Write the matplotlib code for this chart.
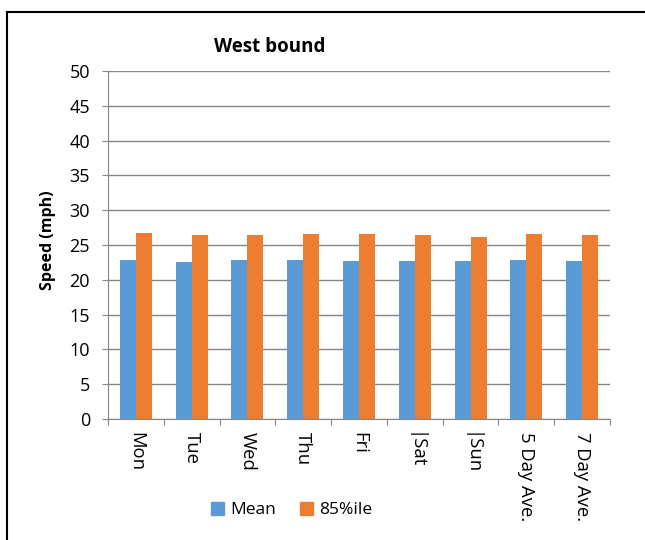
import matplotlib
matplotlib.use('Agg')
import matplotlib.pyplot as plt
import numpy as np
from matplotlib.patches import Rectangle, Patch

# Data
days = ['Mon', 'Tue', 'Wed', 'Thu', 'Fri', '|Sat', '|Sun', '5 Day Ave.', '7 Day Ave.']
mean_speed = [22.9, 22.6, 22.8, 22.9, 22.7, 22.7, 22.7, 22.8, 22.7]
pct85_speed = [26.7, 26.4, 26.4, 26.6, 26.6, 26.4, 26.2, 26.6, 26.4]

blue = '#5B9BD5'
orange = '#ED7D31'
grid_col = '#868686'

plt.rcParams['font.family'] = ['Open Sans', 'DejaVu Sans']

fig = plt.figure(figsize=(6.45, 5.4), dpi=100)
ax = fig.add_axes([108 / 645, 1 - 419 / 540, 502 / 645, 348 / 540])

x = np.arange(len(days))
w = 0.286
ax.bar(x - w / 2, mean_speed, w, color=blue, label='Mean')
ax.bar(x + w / 2, pct85_speed, w, color=orange, label='85%ile')

ax.set_xlim(-0.5, len(days) - 0.5)
ax.set_ylim(0, 50)
ax.set_yticks(range(0, 51, 5))
ax.yaxis.grid(True, color=grid_col, linewidth=1)
ax.set_axisbelow(True)

# category ticks between groups, labels at centres
ax.set_xticks(np.arange(-0.5, len(days), 1))
ax.set_xticklabels([])
ax.set_xticks(x, minor=True)
ax.set_xticklabels(days, minor=True, rotation=-90, fontsize=13.3, va='top', ha='center')
ax.tick_params(axis='x', which='minor', length=0, pad=9)
ax.tick_params(axis='x', which='major', length=4.5, color=grid_col, direction='out')
ax.tick_params(axis='y', length=4.5, color=grid_col, labelsize=13, pad=8.5)

for s in ['top', 'right']:
    ax.spines[s].set_visible(False)
ax.spines['left'].set_color(grid_col)
ax.spines['bottom'].set_color(grid_col)

fig.text(48 / 645, 1 - 240 / 540, 'Speed (mph)', fontsize=11.5, fontweight='bold',
         rotation=90, ha='center', va='center')

fig.text(270 / 645, 1 - 47 / 540, 'West bound', fontsize=13.5, fontweight='bold',
         ha='center', va='center')

handles = [Patch(color=blue, label='Mean'), Patch(color=orange, label='85%ile')]
fig.legend(handles=handles, loc='center', bbox_to_anchor=(292 / 645, 1 - 510 / 540),
           ncol=2, frameon=False, fontsize=12.5, handlelength=0.75, handleheight=0.75,
           handletextpad=0.35, columnspacing=1.4)

# chart border
fig.patches.append(Rectangle((7 / 645, -0.05), 1.2, 1 - 12 / 540 + 0.05,
                             transform=fig.transFigure, fill=False,
                             edgecolor='black', linewidth=1.5))

fig.savefig('out.png', dpi=100)
